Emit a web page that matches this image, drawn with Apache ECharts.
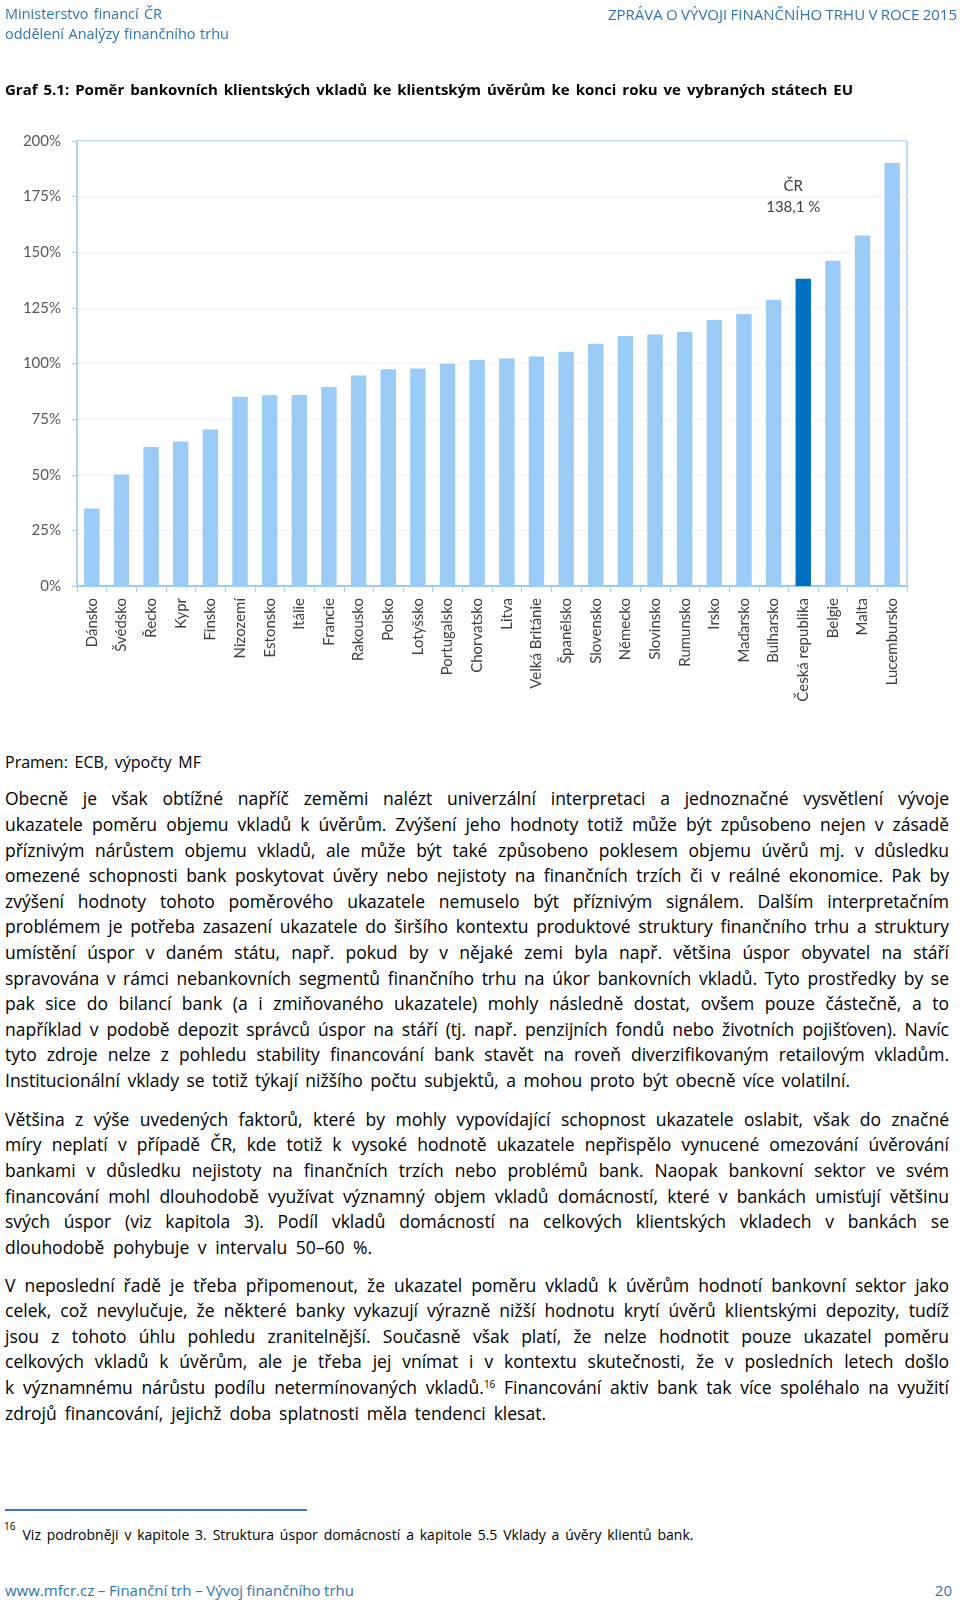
<!DOCTYPE html>
<html>
<head>
<meta charset="utf-8">
<script src="https://cdn.jsdelivr.net/npm/echarts@6.0.0/dist/echarts.min.js"></script>
<style>
  html, body { margin: 0; padding: 0; background: #ffffff; }
  body { width: 960px; height: 1605px; position: relative; overflow: hidden; font-family: "Open Sans", "Noto Sans", sans-serif; }
  #chart { position: absolute; left: 0; top: 0; width: 960px; height: 740px; }
  .ln { position: absolute; white-space: nowrap; display: inline-block; line-height: 22px; height: 22px; color: #000; z-index: 2; }
  .ln sup { font-size: 10px; line-height: 0; vertical-align: 6px; }
</style>
</head>
<body>
<div id="chart"></div>
<script>
// ---- chart data ----
const categories = ["Dánsko", "Švédsko", "Řecko", "Kypr", "Finsko", "Nizozemí", "Estonsko", "Itálie", "Francie", "Rakousko", "Polsko", "Lotyšsko", "Portugalsko", "Chorvatsko", "Litva", "Velká Británie", "Španělsko", "Slovensko", "Německo", "Slovinsko", "Rumunsko", "Irsko", "Maďarsko", "Bulharsko", "Česká republika", "Belgie", "Malta", "Lucembursko"];
const ratioValues = [34.8, 50.1, 62.5, 65.0, 70.3, 85.1, 85.7, 85.8, 89.4, 94.6, 97.4, 97.7, 99.9, 101.6, 102.2, 103.2, 105.3, 108.9, 112.4, 113.0, 114.2, 119.6, 122.2, 128.7, 138.1, 146.2, 157.5, 190.1];
const highlightCategory = "Česká republika";
const highlightLabel = "ČR\n138,1 %";
const yTicks = { min: 0, max: 200, interval: 25 };

// ---- page text ----
const headerLeft = ["Ministerstvo financí ČR", "oddělení Analýzy finančního trhu"];
const headerRight = "ZPRÁVA O VÝVOJI FINANČNÍHO TRHU V ROCE 2015";
const chartTitle = "Graf 5.1: Poměr bankovních klientských vkladů ke klientským úvěrům ke konci roku ve vybraných státech EU";
const sourceText = "Pramen: ECB, výpočty MF";
const para1 = [
  "Obecně je však obtížné napříč zeměmi nalézt univerzální interpretaci a jednoznačné vysvětlení vývoje",
  "ukazatele poměru objemu vkladů k úvěrům. Zvýšení jeho hodnoty totiž může být způsobeno nejen v zásadě",
  "příznivým nárůstem objemu vkladů, ale může být také způsobeno poklesem objemu úvěrů mj. v důsledku",
  "omezené schopnosti bank poskytovat úvěry nebo nejistoty na finančních trzích či v reálné ekonomice. Pak by",
  "zvýšení hodnoty tohoto poměrového ukazatele nemuselo být příznivým signálem. Dalším interpretačním",
  "problémem je potřeba zasazení ukazatele do širšího kontextu produktové struktury finančního trhu a struktury",
  "umístění úspor v daném státu, např. pokud by v nějaké zemi byla např. většina úspor obyvatel na stáří",
  "spravována v rámci nebankovních segmentů finančního trhu na úkor bankovních vkladů. Tyto prostředky by se",
  "pak sice do bilancí bank (a i zmiňovaného ukazatele) mohly následně dostat, ovšem pouze částečně, a to",
  "například v podobě depozit správců úspor na stáří (tj. např. penzijních fondů nebo životních pojišťoven). Navíc",
  "tyto zdroje nelze z pohledu stability financování bank stavět na roveň diverzifikovaným retailovým vkladům.",
  "Institucionální vklady se totiž týkají nižšího počtu subjektů, a mohou proto být obecně více volatilní."
];
const para2 = [
  "Většina z výše uvedených faktorů, které by mohly vypovídající schopnost ukazatele oslabit, však do značné",
  "míry neplatí v případě ČR, kde totiž k vysoké hodnotě ukazatele nepřispělo vynucené omezování úvěrování",
  "bankami v důsledku nejistoty na finančních trzích nebo problémů bank. Naopak bankovní sektor ve svém",
  "financování mohl dlouhodobě využívat významný objem vkladů domácností, které v bankách umisťují většinu",
  "svých úspor (viz kapitola 3). Podíl vkladů domácností na celkových klientských vkladech v bankách se",
  "dlouhodobě pohybuje v intervalu 50–60 %."
];
const para3 = [
  "V neposlední řadě je třeba připomenout, že ukazatel poměru vkladů k úvěrům hodnotí bankovní sektor jako",
  "celek, což nevylučuje, že některé banky vykazují výrazně nižší hodnotu krytí úvěrů klientskými depozity, tudíž",
  "jsou z tohoto úhlu pohledu zranitelnější. Současně však platí, že nelze hodnotit pouze ukazatel poměru",
  "celkových vkladů k úvěrům, ale je třeba jej vnímat i v kontextu skutečnosti, že v posledních letech došlo",
  "k významnému nárůstu podílu netermínovaných vkladů.<sup>16</sup> Financování aktiv bank tak více spoléhalo na využití",
  "zdrojů financování, jejichž doba splatnosti měla tendenci klesat."
];
const footnoteText = "Viz podrobněji v kapitole 3. Struktura úspor domácností a kapitole 5.5 Vklady a úvěry klientů bank.";
const footerLeft = "www.mfcr.cz – Finanční trh – Vývoj finančního trhu";
const footerRight = "20";

// ---- chart ----
const LIGHT = '#9BCBF7';
const DARK = '#0070C0';
const FRAME = '#A7CFF3';
const chart = echarts.init(document.getElementById('chart'), null, { renderer: 'canvas' });
chart.setOption({
  animation: false,
  textStyle: { fontFamily: 'Lato' },
  grid: { left: 77, top: 141, width: 830, height: 445, show: true, borderColor: FRAME, borderWidth: 1.5, backgroundColor: 'transparent' },
  xAxis: {
    type: 'category',
    data: categories,
    boundaryGap: true,
    axisLine: { show: true, lineStyle: { color: LIGHT, width: 2 } },
    axisTick: { show: true, alignWithLabel: false, length: 6, lineStyle: { color: FRAME, width: 1 } },
    axisLabel: { rotate: 90, margin: 12, fontSize: 15, color: '#404040', fontFamily: 'Lato', interval: 0 },
    splitLine: { show: false }
  },
  yAxis: {
    type: 'value',
    min: yTicks.min, max: yTicks.max, interval: yTicks.interval,
    axisLine: { show: true, lineStyle: { color: FRAME, width: 1.5 } },
    axisTick: { show: true, length: 5, lineStyle: { color: FRAME } },
    axisLabel: { margin: 16, fontSize: 15, color: '#595959', fontFamily: 'Lato', formatter: '{value}%' },
    splitLine: { show: true, lineStyle: { color: '#F2F2F2', width: 1 } }
  },
  series: [{
    type: 'bar',
    barWidth: '52%',
    data: ratioValues.map((v, i) => {
      if (categories[i] === highlightCategory) {
        return {
          value: v,
          itemStyle: { color: DARK },
          label: { show: true, position: 'top', distance: 0, offset: [-10, -61], formatter: highlightLabel, fontSize: 15, lineHeight: 21, color: '#404040', fontFamily: 'Lato', align: 'center' }
        };
      }
      return { value: v, itemStyle: { color: LIGHT } };
    })
  }]
});

// ---- page text layout ----
function place(html, x, yc, targetW, opts) {
  opts = opts || {};
  const d = document.createElement('div');
  d.className = 'ln';
  d.innerHTML = html;
  d.style.fontSize = (opts.size || 16) + 'px';
  if (opts.bold) d.style.fontWeight = 'bold';
  if (opts.color) d.style.color = opts.color;
  d.style.top = (yc - 11) + 'px';
  d.style.left = x + 'px';
  document.body.appendChild(d);
  if (targetW) {
    const w0 = d.getBoundingClientRect().width;
    const n = (d.textContent.match(/ /g) || []).length;
    if (n > 0) d.style.wordSpacing = ((targetW - w0) / n) + 'px';
    else d.style.letterSpacing = ((targetW - w0) / Math.max(1, d.textContent.length)) + 'px';
  }
  if (opts.alignRight) {
    const w1 = d.getBoundingClientRect().width;
    d.style.left = (x - w1) + 'px';
  }
  return d;
}

const BLUE = '#2E75B6';
place(headerLeft[0], 5, 13.5, 157, { size: 14.5, color: BLUE });
place(headerLeft[1], 5, 34, 224, { size: 14.5, color: BLUE });
place(headerRight, 957, 13.5, 349, { size: 15, color: BLUE, alignRight: true });
place(chartTitle, 5, 89, 848, { size: 15, bold: true });
place(sourceText, 5, 761.5, 196, { size: 16 });

const LX = 5, FULLW = 944, LH = 25.6;
function paragraph(lines, y0, lastW) {
  lines.forEach((t, i) => {
    const w = (i === lines.length - 1) ? lastW : FULLW;
    place(t, LX, y0 + i * LH, w, { size: 17.5 });
  });
}
paragraph(para1, 798.4, 845);
paragraph(para2, 1118.7, 367);
paragraph(para3, 1284.5, 541);

// footnote separator
const sep = document.createElement('div');
sep.style.cssText = 'position:absolute;left:5px;top:1509px;width:302px;height:1.5px;background:#4472C4;';
document.body.appendChild(sep);
place('<sup style="font-size:10px">16</sup>', 4, 1531, 0, { size: 13 });
place(footnoteText, 22.5, 1535, 671, { size: 14 });
place(footerLeft, 5, 1589.5, 349, { size: 15, color: BLUE });
place(footerRight, 952, 1589.5, 0, { size: 15, color: BLUE, alignRight: true });
</script>
</body>
</html>
